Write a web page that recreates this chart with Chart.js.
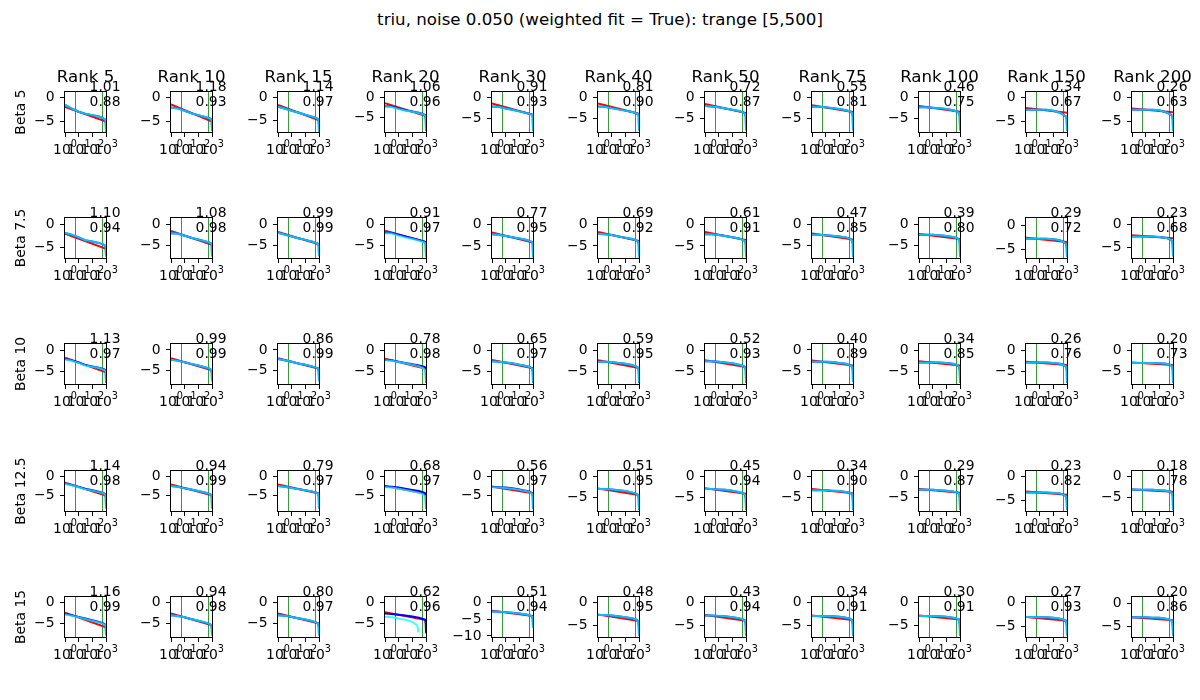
<!DOCTYPE html>
<html><head><meta charset="utf-8">
<script src="https://cdn.jsdelivr.net/npm/chart.js@4.4.1/dist/chart.umd.min.js"></script>
<style>
html,body{margin:0;padding:0;background:#fff;}
#fig{position:relative;width:1200px;height:700px;overflow:hidden;font-family:"DejaVu Sans",sans-serif;color:#000;}
#fig canvas{position:absolute;}
.t{position:absolute;white-space:nowrap;line-height:1;transform:translateY(-50%);}
.c{transform:translate(-50%,-50%);}
.v{transform:translate(-50%,-50%) rotate(-90deg);}
</style></head><body><div id="fig"></div>
<script>
// ---------------- data ----------------
const TITLE = 'triu, noise 0.050 (weighted fit = True): trange [5,500]';
const RANKS = [5, 10, 15, 20, 30, 40, 50, 75, 100, 150, 200];
const BETAS = ['5', '7.5', '10', '12.5', '15'];
const X_GRID = [1, 3, 10, 30, 100, 300, 600, 850, 950, 1000];
const FIT_X = [1, 1000];
const TRANGE = [5, 500];
const X_TICKS = [1, 10, 100, 1000];
const X_TICK_BASE = '10';
const X_TICK_EXP = ['0', '1', '2', '3'];
const Y_TICKS = [-10, -5, 0];

// Beta 5
const SLOPE_B5 = [1.01, 1.18, 1.14, 1.06, 0.91, 0.81, 0.72, 0.55, 0.46, 0.34, 0.26];
const R2_B5 = [0.88, 0.93, 0.97, 0.96, 0.93, 0.90, 0.87, 0.81, 0.75, 0.67, 0.63];
const FIT_START_B5 = [-1.9, -1.4, -1.6, -1.4, -1.4, -1.4, -1.5, -1.8, -2.0, -2.1, -2.2];
const FIT_END_B5 = [-4.93, -4.94, -5.02, -4.58, -4.13, -3.83, -3.66, -3.45, -3.38, -3.12, -2.98];
const YMIN_B5 = [-7.1, -7.1, -7.6, -8.5, -8.3, -8.2, -8.2, -8.2, -8.2, -7.1, -7.1];
const YMAX_B5 = [1.2, 1.2, 1.25, 1.4, 1.4, 1.35, 1.35, 1.35, 1.35, 1.2, 1.2];
const CYAN_B5 = [
  [-1.5, -2.2, -2.9, -3.3, -3.6, -3.9, -4.2, -4.5, -5.3, -7.0],
  [-2.0, -2.2, -2.7, -3.2, -3.6, -4.0, -4.2, -4.4, -5.0, -6.9],
  [-2.0, -2.4, -2.9, -3.3, -3.8, -4.2, -4.5, -4.7, -5.4, -7.5],
  [-2.2, -2.3, -2.8, -3.2, -3.5, -3.8, -4.1, -4.4, -5.5, -8.2],
  [-2.1, -2.2, -2.6, -2.9, -3.3, -3.7, -3.9, -4.1, -4.6, -8.0],
  [-2.1, -2.2, -2.5, -2.8, -3.1, -3.4, -3.7, -3.9, -4.5, -7.8],
  [-2.0, -2.1, -2.3, -2.6, -2.9, -3.2, -3.5, -3.8, -4.5, -7.8],
  [-2.2, -2.2, -2.3, -2.5, -2.7, -3.0, -3.3, -3.7, -4.5, -7.8],
  [-2.3, -2.3, -2.4, -2.5, -2.7, -3.0, -3.3, -3.7, -4.5, -7.8],
  [-2.5, -2.5, -2.5, -2.5, -2.7, -3.1, -3.6, -3.9, -4.7, -6.9],
  [-2.5, -2.5, -2.5, -2.5, -2.6, -3.0, -3.4, -3.7, -4.5, -6.9]
];

// Beta 7.5
const SLOPE_B75 = [1.10, 1.08, 0.99, 0.91, 0.77, 0.69, 0.61, 0.47, 0.39, 0.29, 0.23];
const R2_B75 = [0.94, 0.98, 0.99, 0.97, 0.95, 0.92, 0.91, 0.85, 0.80, 0.72, 0.68];
const FIT_START_B75 = [-2.0, -1.6, -1.8, -1.5, -1.9, -1.8, -1.8, -2.2, -2.3, -2.6, -2.3];
const FIT_END_B75 = [-5.3, -4.84, -4.77, -4.23, -4.21, -3.87, -3.63, -3.61, -3.47, -3.47, -2.99];
const YMIN_B75 = [-7.3, -8.0, -8.0, -8.0, -7.8, -7.8, -7.8, -8.0, -8.0, -6.8, -7.3];
const YMAX_B75 = [1.45, 1.5, 1.5, 1.5, 1.45, 1.45, 1.45, 1.5, 1.5, 1.5, 1.45];
const CYAN_B75 = [
  [-1.8, -2.2, -2.8, -3.4, -3.7, -4.0, -4.3, -4.6, -5.3, -7.0],
  [-2.1, -2.2, -2.7, -3.2, -3.6, -4.0, -4.3, -4.5, -5.2, -7.6],
  [-2.0, -2.4, -2.9, -3.3, -3.7, -4.1, -4.4, -4.6, -5.2, -7.6],
  [-2.1, -2.2, -2.7, -3.1, -3.5, -3.9, -4.2, -4.4, -5.3, -7.8],
  [-2.3, -2.4, -2.7, -3.0, -3.3, -3.6, -3.9, -4.1, -4.6, -7.6],
  [-2.2, -2.3, -2.5, -2.8, -3.1, -3.4, -3.7, -4.0, -4.6, -7.6],
  [-2.3, -2.3, -2.5, -2.7, -3.0, -3.3, -3.6, -3.9, -4.6, -7.6],
  [-2.5, -2.5, -2.6, -2.7, -2.9, -3.1, -3.4, -3.8, -4.5, -7.7],
  [-2.5, -2.5, -2.5, -2.6, -2.8, -3.0, -3.3, -3.7, -4.5, -7.7],
  [-2.8, -2.8, -2.8, -2.8, -2.9, -3.1, -3.5, -3.9, -4.7, -6.6],
  [-2.6, -2.6, -2.6, -2.6, -2.7, -2.9, -3.2, -3.6, -4.5, -6.9]
];

// Beta 10
const SLOPE_B10 = [1.13, 0.99, 0.86, 0.78, 0.65, 0.59, 0.52, 0.40, 0.34, 0.26, 0.20];
const R2_B10 = [0.97, 0.99, 0.99, 0.98, 0.97, 0.95, 0.93, 0.89, 0.85, 0.76, 0.73];
const FIT_START_B10 = [-1.8, -2.0, -2.0, -2.0, -2.3, -2.4, -2.4, -2.5, -2.6, -2.7, -2.9];
const FIT_END_B10 = [-5.19, -4.97, -4.58, -4.34, -4.25, -4.17, -3.96, -3.7, -3.62, -3.48, -3.5];
const YMIN_B10 = [-7.9, -8.3, -8.3, -7.9, -7.9, -7.9, -7.9, -8.1, -7.9, -7.9, -7.9];
const YMAX_B10 = [1.4, 1.45, 1.45, 1.4, 1.4, 1.4, 1.4, 1.4, 1.4, 1.4, 1.4];
const CYAN_B10 = [
  [-2.2, -2.5, -3.0, -3.6, -3.9, -4.2, -4.5, -4.7, -5.5, -7.6],
  [-2.4, -2.6, -3.0, -3.4, -3.8, -4.2, -4.5, -4.8, -5.5, -7.6],
  [-2.2, -2.5, -2.9, -3.3, -3.6, -4.0, -4.3, -4.5, -5.3, -7.6],
  [-2.4, -2.5, -2.8, -3.1, -3.4, -3.8, -4.2, -4.6, -5.4, -7.6],
  [-2.6, -2.7, -2.9, -3.1, -3.4, -3.7, -4.0, -4.3, -5.0, -7.6],
  [-2.7, -2.7, -2.8, -3.0, -3.2, -3.5, -3.8, -4.1, -4.8, -7.6],
  [-2.6, -2.6, -2.7, -2.9, -3.1, -3.4, -3.7, -4.0, -4.8, -7.6],
  [-2.8, -2.8, -2.8, -2.9, -3.1, -3.3, -3.6, -3.9, -4.7, -7.6],
  [-2.9, -2.9, -2.9, -2.9, -3.0, -3.2, -3.5, -3.9, -4.7, -7.6],
  [-2.9, -2.9, -2.9, -2.9, -3.0, -3.2, -3.5, -3.8, -4.6, -7.6],
  [-3.0, -3.0, -3.0, -3.0, -3.1, -3.2, -3.4, -3.8, -4.6, -7.6]
];

// Beta 12.5
const SLOPE_B125 = [1.14, 0.94, 0.79, 0.68, 0.56, 0.51, 0.45, 0.34, 0.29, 0.23, 0.18];
const R2_B125 = [0.98, 0.99, 0.97, 0.97, 0.97, 0.95, 0.94, 0.90, 0.87, 0.82, 0.78];
const FIT_START_B125 = [-1.7, -2.2, -2.2, -2.6, -2.8, -2.9, -2.8, -3.0, -3.0, -3.2, -3.1];
const FIT_END_B125 = [-5.12, -5.02, -4.57, -4.64, -4.48, -4.43, -4.15, -4.02, -3.87, -3.89, -3.64];
const YMIN_B125 = [-9.2, -9.2, -9.2, -9.2, -9.2, -8.2, -8.2, -8.2, -8.2, -7.3, -8.2];
const YMAX_B125 = [1.4, 1.4, 1.4, 1.4, 1.4, 1.25, 1.25, 1.25, 1.25, 1.1, 1.25];
const CYAN_B125 = [
  [-2.0, -2.4, -2.9, -3.4, -3.8, -4.2, -4.5, -4.8, -5.6, -8.5],
  [-2.6, -2.8, -3.2, -3.5, -3.9, -4.3, -4.6, -4.9, -5.6, -8.5],
  [-2.6, -2.8, -3.1, -3.4, -3.7, -4.0, -4.3, -4.6, -5.4, -8.5],
  [-2.9, -3.0, -3.3, -3.6, -4.0, -4.4, -4.8, -5.3, -6.5, -8.6],
  [-2.9, -3.0, -3.1, -3.3, -3.6, -3.9, -4.2, -4.6, -5.4, -8.6],
  [-3.0, -3.0, -3.1, -3.3, -3.5, -3.8, -4.1, -4.4, -5.3, -7.9],
  [-3.0, -3.0, -3.1, -3.2, -3.4, -3.7, -4.0, -4.4, -5.2, -7.9],
  [-3.3, -3.3, -3.3, -3.4, -3.5, -3.7, -3.9, -4.2, -5.0, -7.9],
  [-3.2, -3.2, -3.2, -3.3, -3.4, -3.6, -3.8, -4.1, -5.0, -7.9],
  [-3.4, -3.4, -3.4, -3.4, -3.5, -3.6, -3.9, -4.2, -5.0, -7.0],
  [-3.2, -3.2, -3.2, -3.2, -3.3, -3.4, -3.6, -4.0, -4.8, -7.9]
];

// Beta 15
const SLOPE_B15 = [1.16, 0.94, 0.80, 0.62, 0.51, 0.48, 0.43, 0.34, 0.30, 0.27, 0.20];
const R2_B15 = [0.99, 0.98, 0.97, 0.96, 0.94, 0.95, 0.94, 0.91, 0.91, 0.93, 0.86];
const FIT_START_B15 = [-2.4, -2.6, -2.6, -2.3, -2.5, -2.6, -2.7, -2.8, -2.8, -3.0, -3.0];
const FIT_END_B15 = [-5.88, -5.42, -5.0, -4.16, -4.03, -4.04, -3.99, -3.82, -3.7, -3.81, -3.6];
const YMIN_B15 = [-8.2, -8.2, -8.2, -8.2, -10.3, -7.6, -7.6, -7.6, -7.6, -7.3, -7.14];
const YMAX_B15 = [1.35, 1.35, 1.35, 1.33, 1.6, 1.3, 1.3, 1.3, 1.3, 1.25, 1.28];
const CYAN_B15 = [
  [-2.8, -3.1, -3.5, -3.9, -4.3, -4.7, -5.0, -5.3, -6.0, -7.8],
  [-3.0, -3.2, -3.5, -3.9, -4.3, -4.7, -5.0, -5.3, -6.0, -7.8],
  [-3.0, -3.1, -3.4, -3.7, -4.0, -4.4, -4.7, -5.0, -5.8, -7.8],
  [-3.4, -3.5, -3.8, -4.1, -4.6, -5.3, -5.9, -7.1],
  [-2.7, -2.8, -2.9, -3.1, -3.3, -3.6, -3.9, -4.2, -5.0, -7.5],
  [-2.7, -2.7, -2.8, -3.0, -3.2, -3.4, -3.7, -4.0, -5.0, -7.3],
  [-2.8, -2.8, -2.9, -3.0, -3.2, -3.4, -3.7, -4.0, -4.9, -7.3],
  [-2.9, -2.9, -3.0, -3.0, -3.1, -3.3, -3.5, -3.9, -4.8, -7.3],
  [-2.9, -2.9, -2.9, -3.0, -3.1, -3.3, -3.5, -3.8, -4.8, -7.3],
  [-3.0, -3.0, -3.1, -3.1, -3.2, -3.4, -3.6, -3.9, -4.8, -6.9],
  [-3.0, -3.0, -3.0, -3.1, -3.1, -3.3, -3.5, -3.8, -4.7, -6.8]
];
const CYAN_X_B15_R20 = [1, 3, 10, 30, 100, 200, 250, 270];

// blue curves that differ visibly from the cyan ones
const BLUE_B5_R20 = [-2.1, -2.2, -2.7, -3.1, -3.4, -3.7, -4.0, -4.3, -5.4, -8.2];
const BLUE_B75_R20 = [-2.0, -2.0, -2.5, -2.9, -3.3, -3.7, -4.0, -4.2, -5.0, -7.8];
const BLUE_B10_R5 = [-2.1, -2.4, -2.9, -3.5, -3.8, -4.1, -4.4, -4.6, -5.4, -7.6];
const BLUE_B10_R20 = [-2.3, -2.4, -2.7, -3.0, -3.3, -3.6, -3.8, -4.0, -4.8, -7.6];
const BLUE_B125_R5 = [-1.9, -2.3, -2.8, -3.3, -3.7, -4.1, -4.4, -4.7, -5.5, -8.5];
const BLUE_B125_R20 = [-2.7, -2.8, -3.0, -3.3, -3.6, -3.9, -4.2, -4.5, -5.4, -8.6];
const BLUE_B125_R30 = [-2.8, -2.9, -3.0, -3.2, -3.5, -3.8, -4.1, -4.5, -5.3, -8.6];
const BLUE_B15_R5 = [-2.7, -3.0, -3.4, -3.8, -4.2, -4.6, -4.9, -5.2, -5.9, -7.8];
const BLUE_B15_R20 = [-2.6, -2.7, -2.9, -3.1, -3.3, -3.6, -3.9, -4.1, -5.0, -7.3];

// ---------------- assembly ----------------
const ROWS = [
  {slope: SLOPE_B5, r2: R2_B5, f0: FIT_START_B5, f1: FIT_END_B5, ymin: YMIN_B5, ymax: YMAX_B5, cyan: CYAN_B5},
  {slope: SLOPE_B75, r2: R2_B75, f0: FIT_START_B75, f1: FIT_END_B75, ymin: YMIN_B75, ymax: YMAX_B75, cyan: CYAN_B75},
  {slope: SLOPE_B10, r2: R2_B10, f0: FIT_START_B10, f1: FIT_END_B10, ymin: YMIN_B10, ymax: YMAX_B10, cyan: CYAN_B10},
  {slope: SLOPE_B125, r2: R2_B125, f0: FIT_START_B125, f1: FIT_END_B125, ymin: YMIN_B125, ymax: YMAX_B125, cyan: CYAN_B125},
  {slope: SLOPE_B15, r2: R2_B15, f0: FIT_START_B15, f1: FIT_END_B15, ymin: YMIN_B15, ymax: YMAX_B15, cyan: CYAN_B15}
];
const BLUE_OVERRIDES = [
  [0, 3, BLUE_B5_R20], [1, 3, BLUE_B75_R20], [2, 0, BLUE_B10_R5], [2, 3, BLUE_B10_R20],
  [3, 0, BLUE_B125_R5], [3, 3, BLUE_B125_R20], [3, 4, BLUE_B125_R30],
  [4, 0, BLUE_B15_R5], [4, 3, BLUE_B15_R20]
];
const CYAN_X_OVERRIDES = [[4, 3, CYAN_X_B15_R20]];

// ---------------- layout ----------------
const COL_LEFT = [65, 171, 278, 385, 492, 598, 705, 812, 919, 1026, 1132];
const ROW_TOP = [92, 218, 344, 471, 597];
const BOX_W = 41, BOX_H = 40;
const PAD_L = 44, PAD_R = 20, PAD_T = 6, X_AX_H = 24;
const FONT = '"DejaVu Sans"';
const TICK_FS = 13.9, SUP_FS = 9.7;

Chart.defaults.font.family = FONT;
Chart.defaults.font.size = TICK_FS;
Chart.defaults.color = '#000';

const fig = document.getElementById('fig');

const frame = {
  id: 'frame',
  beforeDatasetsDraw(chart) {
    const {ctx, chartArea: a} = chart;
    const xs = chart.scales.x;
    ctx.save();
    ctx.strokeStyle = '#3a9a3a';
    ctx.lineWidth = 1;
    ctx.beginPath();
    TRANGE.forEach(v => {
      const px = Math.round(xs.getPixelForValue(v)) + 0.5;
      ctx.moveTo(px, a.top);
      ctx.lineTo(px, a.bottom);
    });
    ctx.stroke();
    ctx.restore();
  },
  afterDraw(chart) {
    const {ctx, chartArea: a} = chart;
    const xs = chart.scales.x;
    ctx.save();
    ctx.strokeStyle = '#000';
    ctx.lineWidth = 1;
    ctx.strokeRect(Math.round(a.left) - 0.5, Math.round(a.top) - 0.5,
      Math.round(a.right) - Math.round(a.left) + 1, Math.round(a.bottom) - Math.round(a.top) + 1);
    // log tick labels: base with raised exponent, like mathtext
    ctx.fillStyle = '#000';
    ctx.textBaseline = 'alphabetic';
    ctx.textAlign = 'left';
    const baseY = Math.round(a.bottom) + 21.5;
    X_TICKS.forEach((v, i) => {
      const px = xs.getPixelForValue(v);
      ctx.font = TICK_FS + 'px ' + FONT;
      const wb = ctx.measureText(X_TICK_BASE).width;
      ctx.font = SUP_FS + 'px ' + FONT;
      const we = ctx.measureText(X_TICK_EXP[i]).width;
      const x0 = px - (wb + we) / 2;
      ctx.font = TICK_FS + 'px ' + FONT;
      ctx.fillText(X_TICK_BASE, x0, baseY);
      ctx.font = SUP_FS + 'px ' + FONT;
      ctx.fillText(X_TICK_EXP[i], x0 + wb, baseY - 6.5);
    });
    ctx.restore();
  }
};

function pts(xs, ys) { return ys.map((y, i) => ({x: xs[i], y})); }
function findOv(list, r, c) { const o = list.find(e => e[0] === r && e[1] === c); return o ? o[2] : null; }

function addText(txt, x, y, size, cls) {
  const d = document.createElement('div');
  d.className = 't ' + (cls || '');
  d.style.left = x + 'px';
  d.style.top = y + 'px';
  d.style.fontSize = size + 'px';
  d.textContent = txt;
  fig.appendChild(d);
}

ROWS.forEach((row, r) => {
  RANKS.forEach((rank, c) => {
    const cv = document.createElement('canvas');
    cv.width = PAD_L + BOX_W + PAD_R;
    cv.height = PAD_T + BOX_H + X_AX_H;
    cv.style.left = (COL_LEFT[c] - PAD_L) + 'px';
    cv.style.top = (ROW_TOP[r] - PAD_T) + 'px';
    fig.appendChild(cv);

    const cyanY = row.cyan[c];
    const cyanX = findOv(CYAN_X_OVERRIDES, r, c) || X_GRID;
    const blueOv = findOv(BLUE_OVERRIDES, r, c);
    const blueY = blueOv || cyanY;
    const blueX = blueOv ? X_GRID : cyanX;

    const tickGrid = {drawOnChartArea: false, drawTicks: true, tickLength: 5, color: '#000', lineWidth: 1};
    new Chart(cv, {
      type: 'line',
      data: {datasets: [
        {data: pts(FIT_X, [row.f0[c], row.f1[c]]), borderColor: '#ff0000', borderWidth: 2, order: 3},
        {data: pts(blueX, blueY), borderColor: '#0000ff', borderWidth: 2, order: 2},
        {data: pts(cyanX, cyanY), borderColor: 'rgba(0,255,255,0.75)', borderWidth: 2, order: 1}
      ]},
      options: {
        responsive: false, animation: false, devicePixelRatio: 1,
        layout: {padding: {left: 0, right: PAD_R, top: PAD_T, bottom: 0}, autoPadding: false},
        plugins: {legend: {display: false}, tooltip: {enabled: false}},
        elements: {line: {tension: 0}, point: {radius: 0}},
        scales: {
          x: {
            type: 'logarithmic', min: X_TICKS[0], max: X_TICKS[X_TICKS.length - 1],
            afterBuildTicks: s => { s.ticks = X_TICKS.map(v => ({value: v})); },
            afterFit: s => { s.height = X_AX_H; s.paddingLeft = 0; s.paddingRight = 0; s.paddingTop = 0; s.paddingBottom = 0; },
            ticks: {display: false, autoSkip: false, maxRotation: 0, minRotation: 0},
            grid: tickGrid, border: {display: false}
          },
          y: {
            type: 'linear', min: row.ymin[c], max: row.ymax[c],
            afterBuildTicks: s => { s.ticks = Y_TICKS.filter(v => v >= s.min && v <= s.max).map(v => ({value: v})); },
            afterFit: s => { s.width = PAD_L; s.paddingLeft = 0; s.paddingRight = 0; s.paddingTop = 0; s.paddingBottom = 0; },
            ticks: {padding: 5.5, color: '#000', font: {family: FONT, size: TICK_FS},
                    callback: v => (v < 0 ? '\u2212' + Math.abs(v) : String(v))},
            grid: tickGrid, border: {display: false}
          }
        }
      },
      plugins: [frame]
    });

    addText(row.slope[c].toFixed(2), COL_LEFT[c] + 0.6 * BOX_W, ROW_TOP[r] - 5.5, TICK_FS);
    addText(row.r2[c].toFixed(2), COL_LEFT[c] + 0.6 * BOX_W, ROW_TOP[r] + 9.7, TICK_FS);
  });
  addText('Beta ' + BETAS[r], 21, ROW_TOP[r] + BOX_H / 2, TICK_FS, 'v');
});

RANKS.forEach((rank, c) => addText('Rank ' + rank, COL_LEFT[c] + BOX_W / 2, ROW_TOP[0] - 15, 16.67, 'c'));
addText(TITLE, 600, 20, 16.67, 'c');
</script>
</body></html>
